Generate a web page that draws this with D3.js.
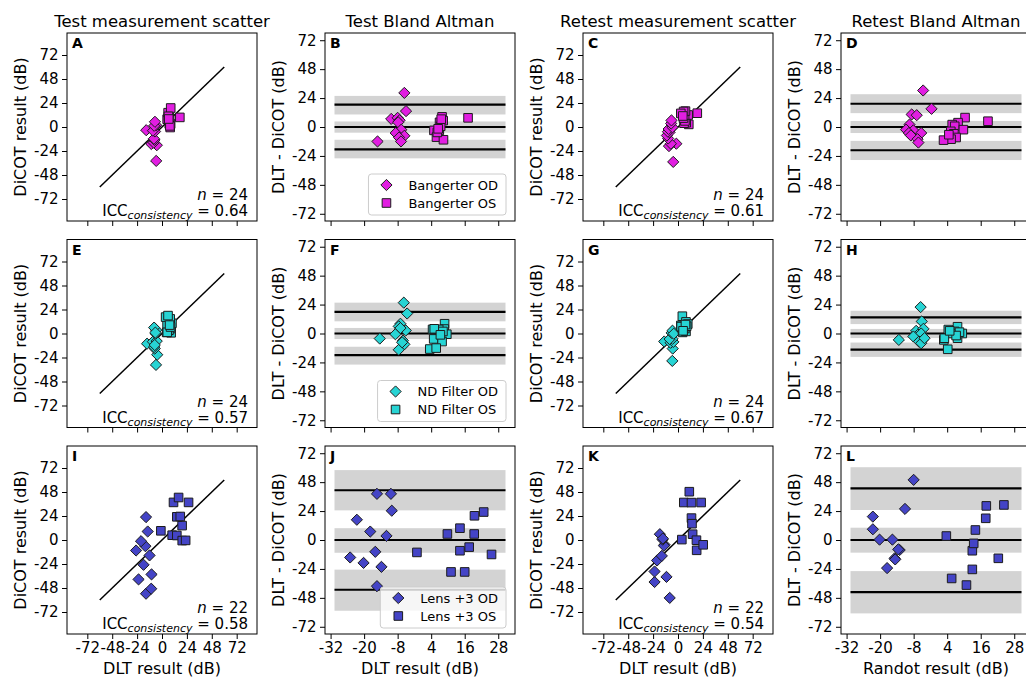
<!DOCTYPE html>
<html><head><meta charset="utf-8">
<script src="https://cdn.jsdelivr.net/npm/d3@7"></script>
<style>body{margin:0;background:#fff}svg{display:block;font-family:"DejaVu Sans",sans-serif}</style>
</head><body><svg id="c" width="1026" height="679"></svg>
<script>
// ---------------- DATA ----------------
const colTitles = ["Test measurement scatter","Test Bland Altman","Retest measurement scatter","Retest Bland Altman"];
const letters = ["A","B","C","D","E","F","G","H","I","J","K","L"];
const condNames = ["Bangerter","ND Filter","Lens +3"];
const scatterTicks = [-72,-48,-24,0,24,48,72];
const baXTicks = [-32,-20,-8,4,16,28];
const baYTicks = [-72,-48,-24,0,24,48,72];

// DLT result and DLT - DiCOT difference, per condition / session / eye
const bangTestOD_dlt  = [-15.2,-5.6,-5.0,-10.3,-8.0,-7.3,-7.8,-6.7,-8.7,-5.6,-7.5,-6.8];
const bangTestOD_diff = [-12.0,28.3,13.2,6.7,7.6,5.6,3.9,-2.2,-5.0,-7.3,-8.7,-12.0];
const bangTestOS_dlt  = [7.9,8.3,7.0,5.0,6.9,5.9,8.4,17.2,7.4,6.2,7.6,6.5];
const bangTestOS_diff = [8.4,5.3,3.9,-2.8,-2.8,-8.4,-10.6,7.6,0.6,-4.5,6.5,-1.5];
const bangRetestOD_dlt  = [-4.6,-1.6,-8.7,-6.9,-9.5,-10.7,-8.1,-9.7,-9.0,-5.3,-6.6,-6.3];
const bangRetestOD_diff = [30.3,15.1,10.4,9.8,2.0,-2.2,-2.8,-5.0,-7.0,-5.0,-10.1,-12.9];
const bangRetestOS_dlt  = [18.6,10.4,7.9,5.8,6.7,5.3,9.8,6.4,7.2,5.4,2.7,4.6];
const bangRetestOS_diff = [4.8,7.8,3.6,2.0,0.6,-3.6,-2.2,-5.6,-8.7,-10.1,-10.9,-6.4];

const ndTestOD_dlt  = [-14.4,-5.8,-4.6,-7.0,-7.6,-8.8,-5.1,-6.1,-5.6,-7.6,-6.4,-7.0];
const ndTestOD_diff = [-4.2,25.6,16.6,8.1,5.9,-0.6,2.5,-5.9,-9.0,-13.5,-7.3,4.5];
const ndTestOS_dlt  = [8.8,8.7,4.5,6.7,9.6,4.9,7.9,3.5,5.8,5.1,8.2,7.3];
const ndTestOS_diff = [8.1,3.7,3.4,3.4,-0.6,-4.5,-6.7,-12.9,-12.1,3.9,1.7,-1.1];
const ndRetestOD_dlt  = [-13.3,-5.5,-5.1,-7.1,-6.5,-4.5,-5.3,-8.1,-4.7,-6.1,-5.3,-4.1];
const ndRetestOD_diff = [-5.3,21.9,10.0,2.2,-1.1,3.9,0.0,-2.5,-5.3,-6.7,-8.1,-3.9];
const ndRetestOS_dlt  = [2.8,4.2,4.4,7.7,7.7,9.4,6.7,5.4,8.4,3.0,7.2,4.9];
const ndRetestOS_diff = [-5.3,-13.1,3.3,5.6,-3.9,0.0,1.7,0.0,1.1,-3.9,-1.7,2.2];

const lensTestOD_dlt  = [-15.4,-10.4,-10.1,-22.6,-17.8,-12.0,-16.0,-25.0,-20.2,-13.8,-15.4];
const lensTestOD_diff = [38.3,38.3,24.3,16.8,7.0,3.4,-9.8,-14.5,-19.0,-22.3,-38.3];
const lensTestOS_dlt  = [-1.1,9.8,14.3,19.5,22.8,19.4,14.3,17.6,25.6,11.1,16.0];
const lensTestOS_diff = [-10.3,5.0,9.8,20.1,23.2,5.0,-8.9,-5.9,-12.0,-26.5,-26.5];
const lensRetestOD_dlt  = [-8.0,-11.1,-22.6,-22.6,-20.2,-15.6,-13.0,-13.5,-14.8,-17.5,-14.6];
const lensRetestOD_diff = [49.9,25.8,19.4,8.9,0.3,0.3,-8.3,-7.8,-15.2,-23.3,-16.1];
const lensRetestOS_dlt  = [3.7,5.6,10.9,13.0,13.0,13.5,14.1,17.8,18.0,24.3,22.3];
const lensRetestOS_diff = [3.3,-31.9,-37.4,-24.4,-8.9,-2.8,8.3,18.0,28.3,29.1,-15.2];

// scatter annotations (order: A, C, E, G, I, K)
const nValues   = [24,24,24,24,22,22];
const iccValues = ["0.64","0.61","0.57","0.67","0.58","0.54"];

// Bland-Altman statistics (order: B, D, F, H, J, L)
const baMean     = [0,0,0,0,0,0];
const baUpper    = [18.5,19.3,18.0,13.3,41.3,42.9];
const baLower    = [-18.5,-19.3,-18.0,-13.3,-41.3,-43.2];
const baMeanCIlo = [-4.7,-5.0,-4.6,-3.8,-10.6,-10.5];
const baMeanCIhi = [4.6,5.0,4.6,3.8,9.8,10.2];
const baUpCIlo   = [10.4,11.5,10.1,7.8,24.6,24.9];
const baUpCIhi   = [25.8,27.2,25.6,18.9,58.0,60.4];
const baLoCIlo   = [-26.0,-27.4,-25.8,-19.4,-58.7,-60.9];
const baLoCIhi   = [-10.6,-11.5,-11.0,-7.5,-24.6,-25.8];

// ---------------- STYLE / LAYOUT ----------------
const condColors = ["#e11ee1","#27d4d4","#4444c6"];
const edgeCol = "#1c1c1c";
const W = 190, H = 188;
const scatterXDom = [-91.6, 91.6], scatterYDom = [-94, 94];
const baXDom = [-34, 34], baYDom = [-78, 78];

const data = [
  [{od:[bangTestOD_dlt,bangTestOD_diff], os:[bangTestOS_dlt,bangTestOS_diff]},
   {od:[bangRetestOD_dlt,bangRetestOD_diff], os:[bangRetestOS_dlt,bangRetestOS_diff]}],
  [{od:[ndTestOD_dlt,ndTestOD_diff], os:[ndTestOS_dlt,ndTestOS_diff]},
   {od:[ndRetestOD_dlt,ndRetestOD_diff], os:[ndRetestOS_dlt,ndRetestOS_diff]}],
  [{od:[lensTestOD_dlt,lensTestOD_diff], os:[lensTestOS_dlt,lensTestOS_diff]},
   {od:[lensRetestOD_dlt,lensRetestOD_diff], os:[lensRetestOS_dlt,lensRetestOS_diff]}]
];

const svg = d3.select("#c");
const fmt = d => String(d);
const diamond = r => `M0,${-r}L${r},0L0,${r}L${-r},0Z`;
const squareD = "M-4.3,-4.3H4.3V4.3H-4.3Z";

function drawMarkers(g, pts, kind, color, x, y) {
  const sel = g.append("g").selectAll("path").data(pts).join("path")
    .attr("transform", d => `translate(${x(d[0])},${y(d[1])})`)
    .attr("fill", color).attr("stroke", edgeCol).attr("stroke-width", 1);
  sel.attr("d", kind === "D" ? diamond(5.6) : squareD);
}

for (let r = 0; r < 3; r++) {
  for (let c = 0; c < 4; c++) {
    const left = 67 + 258 * c, top = 33 + 206.5 * r;
    const session = c >> 1, isBA = c % 2 === 1;
    const g = svg.append("g").attr("transform", `translate(${left},${top})`);
    const x = d3.scaleLinear().domain(isBA ? baXDom : scatterXDom).range([0, W]);
    const y = d3.scaleLinear().domain(isBA ? baYDom : scatterYDom).range([H, 0]);
    const clipId = `clip${r}${c}`;
    g.append("clipPath").attr("id", clipId).append("rect").attr("width", W).attr("height", H);
    const plot = g.append("g").attr("clip-path", `url(#${clipId})`);
    const ds = data[r][session];
    const color = condColors[r];
    const idx = r * 2 + session;

    if (isBA) {
      const x0 = baXDom[0] + 0.05 * (baXDom[1] - baXDom[0]);
      const x1 = baXDom[1] - 0.05 * (baXDom[1] - baXDom[0]);
      const bands = [[baUpCIlo[idx], baUpCIhi[idx]], [baMeanCIlo[idx], baMeanCIhi[idx]], [baLoCIlo[idx], baLoCIhi[idx]]];
      plot.selectAll("rect.band").data(bands).join("rect").attr("class", "band")
        .attr("x", x(x0)).attr("width", x(x1) - x(x0))
        .attr("y", d => y(d[1])).attr("height", d => y(d[0]) - y(d[1]))
        .attr("fill", "#d3d3d3");
      plot.selectAll("line.stat").data([baUpper[idx], baMean[idx], baLower[idx]]).join("line")
        .attr("class", "stat").attr("x1", x(x0)).attr("x2", x(x1))
        .attr("y1", d => y(d)).attr("y2", d => y(d))
        .attr("stroke", "#000").attr("stroke-width", 2.2);
      drawMarkers(plot, ds.od[0].map((v, i) => [v, ds.od[1][i]]), "D", color, x, y);
      drawMarkers(plot, ds.os[0].map((v, i) => [v, ds.os[1][i]]), "S", color, x, y);
    } else {
      plot.append("line").attr("x1", x(-60)).attr("y1", y(-60)).attr("x2", x(60)).attr("y2", y(60))
        .attr("stroke", "#000").attr("stroke-width", 1.5);
      drawMarkers(plot, ds.od[0].map((v, i) => [v, v - ds.od[1][i]]), "D", color, x, y);
      drawMarkers(plot, ds.os[0].map((v, i) => [v, v - ds.os[1][i]]), "S", color, x, y);
      const t1 = g.append("text").attr("x", W - 9).attr("y", H - 21).attr("text-anchor", "end")
        .attr("font-size", 15).attr("fill", "#000");
      t1.append("tspan").attr("font-style", "italic").text("n");
      t1.append("tspan").text(" = " + nValues[idx]);
      const t2 = g.append("text").attr("x", W - 9).attr("y", H - 5).attr("text-anchor", "end")
        .attr("font-size", 15).attr("fill", "#000");
      t2.append("tspan").text("ICC");
      t2.append("tspan").attr("font-style", "italic").attr("font-size", 11).attr("dy", 3).text("consistency");
      t2.append("tspan").attr("dy", -3).text(" = " + iccValues[idx]);
    }

    const xTicks = isBA ? baXTicks : scatterTicks;
    const yTicks = isBA ? baYTicks : scatterTicks;
    const xa = d3.axisBottom(x).tickValues(xTicks).tickSize(5).tickPadding(3.5).tickSizeOuter(0)
      .tickFormat(r === 2 ? fmt : () => "");
    const ya = d3.axisLeft(y).tickValues(yTicks).tickSize(5).tickPadding(3.5).tickSizeOuter(0).tickFormat(fmt);
    const gx = g.append("g").attr("transform", `translate(0,${H})`).call(xa);
    const gy = g.append("g").call(ya);
    [gx, gy].forEach(a => {
      a.select(".domain").remove();
      a.selectAll("text").attr("font-size", 15).attr("fill", "#000").attr("font-family", "DejaVu Sans");
      a.selectAll("line").attr("stroke", "#000");
    });
    g.append("rect").attr("width", W).attr("height", H).attr("fill", "none").attr("stroke", "#000").attr("stroke-width", 1);

    g.append("text").attr("x", 5).attr("y", 15).attr("font-size", 14).attr("font-weight", "bold").text(letters[r * 4 + c]);

    g.append("text").attr("transform", `translate(-47,${H / 2}) rotate(-90)`).attr("dy", "0.35em")
      .attr("text-anchor", "middle").attr("font-size", 16)
      .text(isBA ? "DLT - DiCOT (dB)" : "DiCOT result (dB)");

    if (r === 2) {
      g.append("text").attr("x", W / 2).attr("y", H + 40).attr("text-anchor", "middle").attr("font-size", 16)
        .text(c === 3 ? "Randot result (dB)" : "DLT result (dB)");
    }
    if (r === 0) {
      g.append("text").attr("x", W / 2).attr("y", -6).attr("text-anchor", "middle").attr("font-size", 16.5)
        .text(colTitles[c]);
    }

    if (c === 1) {
      const lg = g.append("g");
      const labels = [condNames[r] + " OD", condNames[r] + " OS"];
      const box = lg.append("rect").attr("rx", 3).attr("fill", "#fff").attr("fill-opacity", 0.8)
        .attr("stroke", "#cccccc").attr("stroke-width", 1);
      const texts = labels.map((lab, i) => lg.append("text").attr("x", 40).attr("y", 11 + 18 * i).attr("dy", "0.35em")
        .attr("font-size", 13).text(lab));
      const tw = d3.max(texts, t => t.node().getComputedTextLength());
      const bw = 40 + tw + 8, bh = 41;
      box.attr("width", bw).attr("height", bh);
      lg.append("path").attr("d", diamond(5.6)).attr("transform", "translate(18,11)").attr("fill", color).attr("stroke", edgeCol);
      lg.append("path").attr("d", squareD).attr("transform", "translate(18,29)").attr("fill", color).attr("stroke", edgeCol);
      lg.attr("transform", `translate(${W - 9 - bw},${H - 6 - bh})`);
    }
  }
}
</script>
</body></html>
